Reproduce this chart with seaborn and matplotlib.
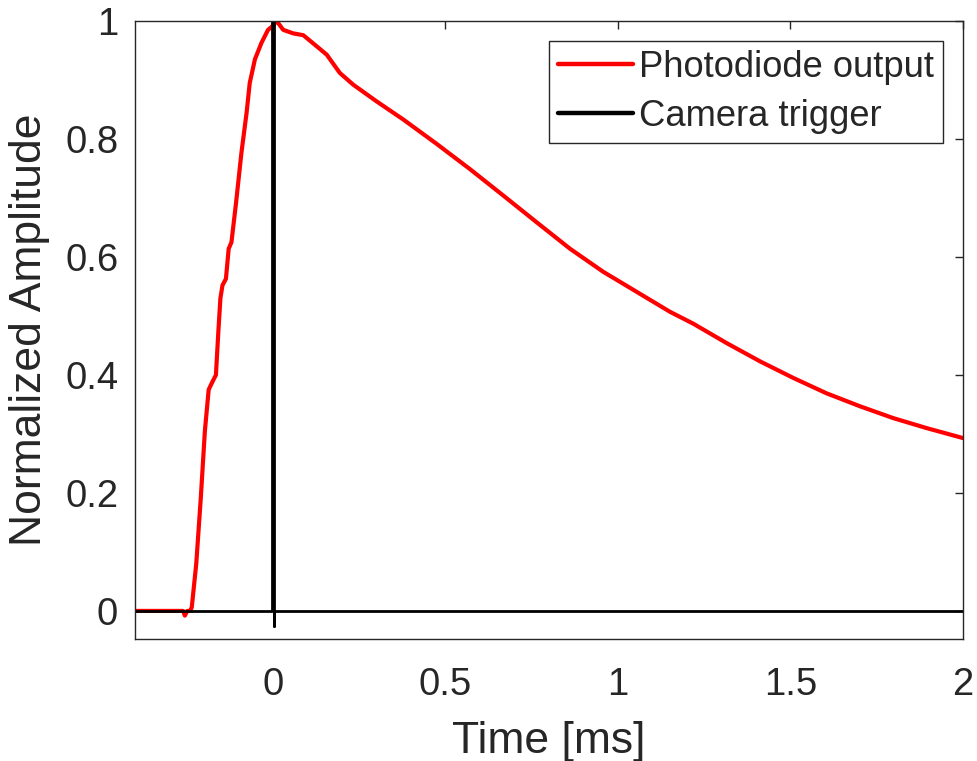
import numpy as np
import pandas as pd
import matplotlib
matplotlib.use("Agg")
import matplotlib.pyplot as plt
import seaborn as sns
from matplotlib.ticker import FuncFormatter

# ---- data ----
photo_time = [-0.4, -0.26, -0.255, -0.248, -0.24, -0.235, -0.222, -0.209, -0.197, -0.186,
              -0.178, -0.165, -0.158, -0.152, -0.146, -0.136, -0.128, -0.12, -0.107, -0.091,
              -0.076, -0.067, -0.052, -0.033, -0.014, 0.0, 0.011, 0.03, 0.059, 0.088,
              0.117, 0.156, 0.194, 0.233, 0.30, 0.378, 0.474, 0.571, 0.668, 0.764,
              0.861, 0.957, 1.054, 1.151, 1.218, 1.315, 1.412, 1.508, 1.604, 1.701,
              1.797, 1.894, 2.0]
photo_amp = [0.0, 0.0, -0.008, 0.0, 0.0, 0.006, 0.08, 0.19, 0.305, 0.375,
             0.385, 0.40, 0.473, 0.53, 0.552, 0.563, 0.614, 0.625, 0.69, 0.777,
             0.845, 0.895, 0.935, 0.963, 0.985, 0.992, 1.0, 0.985, 0.979, 0.976,
             0.962, 0.943, 0.912, 0.892, 0.864, 0.833, 0.792, 0.749, 0.704, 0.659,
             0.614, 0.575, 0.541, 0.507, 0.487, 0.454, 0.423, 0.395, 0.369, 0.347,
             0.327, 0.31, 0.293]

trigger_time = [-0.4, -0.0035, -0.0035, 0.0035, 0.0035, 0.0035, 2.0]
trigger_amp = [0.0, 0.0, 1.0, 1.0, -0.025, 0.0, 0.0]

x_ticks = [0, 0.5, 1, 1.5, 2]
y_ticks = [0, 0.2, 0.4, 0.6, 0.8, 1]

# ---- style ----
sns.set_style("white")
plt.rcParams['font.family'] = ['Liberation Sans', 'DejaVu Sans']

fig = plt.figure(figsize=(9.77, 7.61), dpi=100)
ax = fig.add_axes([0.138, 0.160, 0.8477, 0.8124])

photo_df = pd.DataFrame({"t": photo_time, "a": photo_amp})
trig_df = pd.DataFrame({"t": trigger_time, "a": trigger_amp})

sns.lineplot(data=photo_df, x="t", y="a", ax=ax, color="#ff0000", lw=3.0,
             estimator=None, sort=False, label="Photodiode output")
sns.lineplot(data=trig_df, x="t", y="a", ax=ax, color="black", lw=2.0,
             estimator=None, sort=False, label="Camera trigger")

ax.set_xlim(-0.4, 2.0)
ax.set_ylim(-0.048, 1.0)
ax.set_xticks(x_ticks)
ax.set_yticks(y_ticks)
fmt = FuncFormatter(lambda v, p: f"{v:g}")
ax.xaxis.set_major_formatter(fmt)
ax.yaxis.set_major_formatter(fmt)

ax.tick_params(direction='in', top=True, right=True, length=5.5, width=1,
               labelsize=27.5, colors='#262626')
ax.tick_params(axis='x', pad=20)
ax.tick_params(axis='y', pad=12)

for s in ax.spines.values():
    s.set_visible(True)
    s.set_color('#262626')
    s.set_linewidth(1.0)

ax.set_xlabel("Time [ms]", fontsize=32, color='#262626', labelpad=13)
ax.set_ylabel("Normalized Amplitude", fontsize=32, color='#262626', labelpad=11)

leg = ax.legend(loc='upper right', fontsize=26.2, frameon=True, fancybox=False,
                framealpha=1, edgecolor='#262626', handlelength=2.06,
                handletextpad=0.16, borderpad=0.25, labelspacing=0.37,
                borderaxespad=0.55)
leg.get_frame().set_linewidth(1.0)
for line in leg.get_lines():
    line.set_linewidth(3.2)

fig.savefig("out.png", dpi=100)
